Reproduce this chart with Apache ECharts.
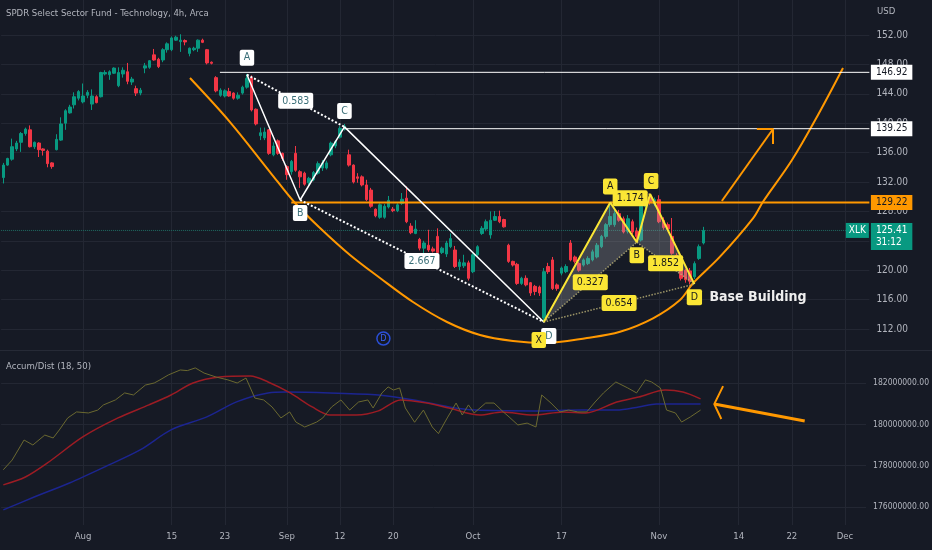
<!DOCTYPE html>
<html><head><meta charset="utf-8">
<script src="https://cdn.jsdelivr.net/npm/echarts@6/dist/echarts.min.js"></script>
<style>html,body{margin:0;padding:0;background:#161a25;}#c{width:932px;height:550px;}</style>
</head><body><div id="c"></div>
<script>
// ---------- DATA ----------
const tradingDays = {
  '2022-07': [19,20,21,22,25,26,27,28,29],
  '2022-08': [1,2,3,4,5,8,9,10,11,12,15,16,17,18,19,22,23,24,25,26,29,30,31],
  '2022-09': [1,2,6,7,8,9,12,13,14,15,16,19,20,21,22,23,26,27,28,29,30],
  '2022-10': [3,4,5,6,7,10,11,12,13,14,17,18,19,20,21,24,25,26,27,28,31],
  '2022-11': [1,2,3,4,7,8,9,10,11,14,15,16,17,18,21,22,23,25,28,29,30],
  '2022-12': [1,2,5]
};
const sessions = ['09:30','13:30'];
const tickLabels = {'2022-08-01':'Aug','2022-08-15':'15','2022-08-23':'23','2022-09-01':'Sep','2022-09-12':'12',
  '2022-09-20':'20','2022-10-03':'Oct','2022-10-17':'17','2022-11-01':'Nov','2022-11-14':'14','2022-11-22':'22','2022-12-01':'Dec'};

const opens = [132.6,134.3,135.1,136.5,137.4,138.6,139.1,136.8,137.3,136.5,
 136.2,134.6,136.4,137.7,140.0,141.4,142.5,143.4,142.9,143.8,
 142.6,143.6,143.6,146.7,146.6,146.8,145.1,146.7,147.0,145.6,
 144.7,144.1,147.5,147.6,149.3,148.7,148.6,150.0,150.0,151.3,
 151.1,151.25,149.5,150.0,150.2,151.3,150.0,148.3,146.2,143.8,
 143.7,144.3,144.1,143.4,144.1,144.9,146.2,141.9,138.3,138.0,
 139.1,135.7,137.6,135.9,134.1,133.4,135.9,133.4,133.2,131.9,
 132.3,133.2,133.9,133.9,135.7,136.9,138.1,139.2,135.7,134.3,
 132.7,132.7,131.6,130.9,128.3,127.2,127.2,128.6,128.3,128.1,
 129.1,129.8,126.0,125.0,124.2,123.0,123.4,122.9,124.6,122.4,
 122.2,123.2,122.75,120.5,120.6,121.0,119.8,122.1,125.0,125.6,
 124.8,126.8,127.3,126.9,123.4,121.2,120.8,118.2,118.9,118.3,
 117.8,117.7,113.5,120.5,121.4,118.0,119.6,119.8,123.7,121.8,
 120.9,120.7,120.9,121.4,121.8,123.2,124.6,126.2,126.2,127.7,
 127.0,125.3,126.6,125.3,124.1,128.7,129.9,129.0,129.6,126.8,
 126.2,124.6,122.0,120.0,120.0,119.9,119.1,121.6,123.7];
const closes = [134.3,135.2,136.8,137.3,138.6,139.2,136.8,137.4,136.4,136.3,
 134.5,134.1,137.8,139.9,141.7,142.2,143.6,144.3,143.7,144.2,
 143.7,142.8,146.9,146.9,147.0,147.5,146.9,147.2,145.7,146.0,
 144.1,144.5,147.8,148.5,148.6,147.7,150.0,150.8,151.6,151.7,
 151.3,151.05,150.2,150.2,151.3,151.0,148.2,148.15,144.4,144.5,
 144.4,143.7,143.4,143.8,144.9,146.1,141.8,139.9,138.7,138.8,
 135.9,136.9,135.9,135.2,133.0,134.8,133.6,132.7,131.7,132.5,
 133.3,134.5,134.6,134.6,137.3,137.5,139.3,139.6,134.3,132.0,
 132.5,131.6,129.6,128.7,127.4,128.9,128.7,129.5,128.1,128.9,
 129.65,126.6,125.1,125.6,123.0,123.7,122.75,122.6,122.4,123.0,
 123.7,124.3,120.5,121.1,121.0,118.9,122.1,123.2,125.7,126.6,
 126.8,127.3,126.6,125.9,121.2,120.7,118.2,118.9,118.0,116.9,
 117.1,116.9,119.8,119.8,117.5,117.5,120.3,120.5,121.4,121.2,
 120.0,121.4,121.6,122.5,123.4,124.6,126.2,127.3,127.7,126.8,
 125.2,127.0,125.2,124.6,128.7,129.7,129.2,129.6,126.6,125.8,
 125.6,122.3,121.4,118.9,118.7,118.5,120.9,123.2,125.41];
const lows = [131.8,134.2,134.9,136.2,136.1,138.3,136.7,136.5,135.4,135.6,
 134.0,133.8,136.3,137.6,139.1,141.3,142.0,143.1,142.7,143.4,
 141.8,142.7,143.5,146.5,145.9,146.7,144.9,146.2,145.3,145.2,
 143.7,143.8,146.8,147.4,148.5,147.5,148.3,149.6,149.8,151.2,
 149.7,150.6,149.1,149.8,149.7,150.9,148.0,148.0,144.2,143.6,
 143.5,143.6,143.2,143.2,143.9,144.7,141.6,139.7,137.7,137.7,
 135.7,135.5,135.7,134.9,132.3,133.0,133.4,131.2,131.5,131.6,
 132.1,133.0,133.5,133.7,135.5,136.6,137.9,139.0,134.1,131.8,
 131.9,131.4,129.4,128.5,127.2,127.0,127.0,128.4,127.9,127.9,
 128.9,126.4,124.9,124.9,122.7,122.3,122.5,122.4,122.2,122.2,
 121.8,123.0,120.3,120.0,120.3,118.6,119.6,121.9,124.8,125.3,
 124.3,126.7,126.4,125.8,121.0,120.5,118.0,118.0,117.8,116.5,
 116.6,116.5,112.95,119.5,117.3,117.2,119.3,119.6,121.2,120.9,
 119.8,120.5,120.7,121.2,121.6,123.0,124.3,125.9,125.9,126.6,
 125.0,125.0,124.9,123.8,123.9,128.4,128.9,128.7,126.4,125.5,
 125.3,122.1,121.0,118.6,118.3,118.1,118.8,121.4,123.5];
const highs = [134.6,135.3,137.9,137.6,138.8,139.4,139.7,137.5,137.4,136.6,
 136.4,134.7,138.5,140.8,141.9,142.5,144.2,144.5,145.4,144.5,
 144.6,143.8,147.0,147.2,147.2,147.6,147.6,147.6,148.2,146.3,
 145.1,144.8,148.2,148.6,150.1,148.9,150.2,151.0,151.8,151.9,
 152.1,151.4,150.3,150.4,151.4,151.5,150.1,148.4,146.4,144.75,
 144.6,144.8,144.2,144.2,145.1,146.7,146.5,142.0,139.4,139.4,
 139.2,137.4,137.8,136.0,134.3,135.0,136.9,133.6,133.4,132.7,
 133.5,134.8,135.0,134.9,137.5,137.7,139.6,139.9,136.4,134.4,
 133.2,132.9,132.3,131.2,128.4,129.1,129.0,130.1,128.6,129.1,
 130.5,131.4,126.4,126.8,124.4,124.0,125.5,123.2,125.7,123.2,
 124.0,125.0,123.3,121.5,122.1,121.3,122.3,123.4,126.0,126.9,
 128.0,128.05,128.1,127.0,123.6,121.3,121.0,119.1,119.3,118.4,
 118.0,117.9,120.3,121.0,121.8,118.2,120.5,120.8,124.1,122.0,
 121.1,121.6,121.9,122.8,123.7,124.8,126.4,129.2,128.3,128.2,
 127.3,127.5,126.9,125.8,129.0,130.0,130.4,129.9,130.2,127.2,
 126.5,127.1,122.3,120.3,120.2,120.3,121.2,123.5,125.9];

// Accum/Dist (millions), [bar index, value]
const adLine = [[0,177.8],[2,178.27],[4.7,179.24],[6.7,179.0],[9.4,179.48],[11.3,179.34],[12.7,179.73],[14.6,180.31],[16.6,180.6],[19.3,180.55],[21.4,180.69],[22.7,180.94],[25.4,181.18],[27.5,181.52],[29.5,181.42],[32.2,181.9],[34.2,182.0],[35.5,182.15],[37.4,182.39],[40.1,182.63],[41.7,182.6],[43.5,182.73],[45.5,182.48],[48.2,182.29],[50.9,182.15],[53,182.0],[55,182.24],[57,181.27],[59,181.18],[60.9,180.84],[62.9,180.31],[64.9,180.6],[66.3,180.11],[68.3,179.87],[71,180.11],[72.4,180.31],[74.4,180.84],[76.5,181.18],[78.5,180.69],[80.5,181.08],[82.6,181.18],[83.8,180.79],[85.8,181.52],[87.2,181.81],[88.4,181.66],[89.8,181.76],[91.1,180.79],[93.2,180.1],[95.2,180.69],[97.2,179.87],[98.6,179.55],[100.6,180.31],[102.6,181.03],[104,180.45],[105.4,180.94],[106.7,180.55],[109.3,181.03],[111.2,181.03],[113.3,180.6],[114.6,180.36],[116.6,179.97],[118.7,180.06],[120.7,179.87],[122,181.42],[124.1,181.03],[126.1,180.6],[128.1,180.69],[130.2,180.6],[132.2,180.6],[134.1,181.08],[136,181.52],[138.8,182.05],[141.5,181.76],[143.5,181.52],[145.5,182.15],[146.9,182.05],[148.9,181.76],[150.3,180.69],[152.3,180.55],[153.7,180.11],[155.7,180.36],[158,180.69]];
const adFast = [[0,177.07],[5,177.45],[10,178.13],[18,179.39],[26,180.31],[33,180.94],[38,181.42],[43,182.0],[49,182.29],[56,182.34],[60,182.05],[65,181.52],[70,180.84],[74,180.45],[80,180.45],[85,180.65],[90,181.18],[96,181.03],[101,180.79],[108,180.45],[113,180.6],[120,180.45],[127,180.6],[132,180.55],[139,181.08],[144,181.32],[150,181.66],[154,181.56],[158,181.23]];
const adSlow = [[0,175.86],[7,176.48],[15,177.16],[23,177.94],[31,178.76],[38,179.73],[46,180.35],[53,181.1],[60,181.52],[64,181.56],[74,181.52],[85,181.42],[93,181.18],[101,180.84],[107,180.69],[120,180.65],[131,180.69],[139,180.69],[144,180.84],[148,180.98],[158,180.98]];

// Drawings, [bar index, price]
const whitePattern = {A:[55,146.6], B:[67,129.55], C:[77,139.5], D:[122,112.95]};
const whiteRatios = [['0.583','A','C'],['2.667','B','D']];
const yellowPattern = {X:[122,112.95], A:[137,129.22], B:[143,123.8], C:[146,130.37], D:[156,118.1]};
const yellowRatios = [['0.327','X','B'],['1.174','A','C'],['1.852','B','D'],['0.654','X','D']];
const levelPrices = [146.92, 139.25, 129.22];
const levelStarts = [48.9, 77, 65];
const lastPrice = 125.41, countdown = '31:12', ticker = 'XLK';
const arcPoints = [[42.14,146.15],[51.17,140.16],[60.2,133.36],[65.85,129.14],[71.49,125.74],[78.26,122.07],[85.03,118.94],[92.48,115.67],[100.16,112.95],[107.61,111.18],[115.06,110.37],[122.28,110.10],[131.76,110.78],[139.21,111.63],[146.66,113.46],[152.75,115.95],[155.69,118.22],[161.78,121.84],[169.23,127.06],[171.49,129.32],[178.03,134.99],[183.9,141.12],[189.54,147.51]];
const arrowMain = [[162.2,129.41],[173.75,139.21]];
const arrowMainHead = [[170.1,139.21],[173.75,139.21],[173.75,137.17]];
const arrowAD = [[181.6,180.16],[161.1,180.98]];
const arrowADHead = [[163.1,181.85],[161.1,180.98],[162.7,180.26]];
const dividends = [[85.8,110.7]];
const noteText = 'Base Building', noteAt = [159.3,116.35];
const titleText = 'SPDR Select Sector Fund - Technology, 4h, Arca';
const adTitle = 'Accum/Dist (18, 50)';

// ---------- BUILD ----------
const categories = [];
Object.keys(tradingDays).forEach(m => tradingDays[m].forEach(d => {
  const ds = m + '-' + String(d).padStart(2,'0');
  sessions.forEach(s => categories.push(ds + ' ' + s));
}));
const N = categories.length;
const BAR = 4.43, GL = 1.1, GW = N * BAR;
const FONT = '"Liberation Sans Narrow","DejaVu Sans Condensed","Liberation Sans",sans-serif';
const TXT = '#b2b5be', GRIDC = '#232733', BG = '#161a25';
const UP = '#089981', DOWN = '#f23645', ORANGE = '#ff9800', YEL = '#fbe635';
const isTick = v => v.endsWith(sessions[0]) && tickLabels[v.slice(0,10)] !== undefined;
const candles = opens.map((o,i) => [o, closes[i], lows[i], highs[i]]);
const mid = (p,q) => [(p[0]+q[0])/2, (p[1]+q[1])/2];

function tag(pos, text, o) {
  return {value: pos, label: Object.assign({show:true, position:'inside', formatter:text, fontFamily:FONT,
    fontSize:10.5, padding:[3,4,2,4], borderRadius:2}, o)};
}
const tags = [];
const wOff = {A:[0,-17], B:[0,13], C:[0,-16], D:[5,14]};
Object.keys(whitePattern).forEach(k => tags.push(tag(whitePattern[k], k, {backgroundColor:'#ffffff', color:'#3a6f78', offset:wOff[k]})));
whiteRatios.forEach(r => tags.push(tag(mid(whitePattern[r[1]], whitePattern[r[2]]), r[0], {backgroundColor:'#ffffff', color:'#3a6f78'})));
const yOff = {X:[-5,18], A:[0,-16], B:[0,13], C:[1,-13], D:[0,13]};
Object.keys(yellowPattern).forEach(k => tags.push(tag(yellowPattern[k], k, {backgroundColor:YEL, color:'#1a1a1a', offset:yOff[k]})));
yellowRatios.forEach(r => tags.push(tag(mid(yellowPattern[r[1]], yellowPattern[r[2]]), r[0], {backgroundColor:YEL, color:'#1a1a1a'})));
const levelBg = ['#ffffff','#ffffff',ORANGE];
levelPrices.forEach((p,i) => tags.push(tag([N-0.5,p], p.toFixed(2), {position:'right', distance:1, backgroundColor:levelBg[i], color:'#131722', fontSize:10, padding:[3,5,2,5], borderRadius:0})));
tags.push(tag([N-0.5,lastPrice], lastPrice.toFixed(2)+'\n'+countdown, {position:'right', distance:1, backgroundColor:UP, color:'#ffffff', fontSize:10, lineHeight:12, padding:[2,5,1,5], borderRadius:0, offset:[0,6]}));
tags.push(tag([N-0.5,lastPrice], ticker, {position:'left', distance:0, backgroundColor:UP, color:'#ffffff', fontSize:10, padding:[3,3,2,3], borderRadius:0}));
tags.push(tag(noteAt, noteText, {position:'right', distance:0, color:'#eeeeee', fontSize:14, fontWeight:'bold', padding:0}));

const lineS = (data, color, width, type, extra) => Object.assign({type:'line', xAxisIndex:3, yAxisIndex:0, data, symbol:'none',
  lineStyle:{color, width, type: type || 'solid'}, silent:true, z:3}, extra || {});

const series = [
  {type:'candlestick', xAxisIndex:0, yAxisIndex:0, data:candles, barWidth:3, z:2,
   itemStyle:{color:UP, color0:DOWN, borderColor:UP, borderColor0:DOWN, borderWidth:1}},
  lineS([[-0.5,lastPrice],[N-0.5,lastPrice]], '#1f6b63', 1, 'dotted', {z:1}),
  lineS(arcPoints, ORANGE, 2, 'solid', {smooth:0.35}),
  lineS([[levelStarts[0],levelPrices[0]],[N-0.5,levelPrices[0]]], '#ffffff', 1),
  lineS([[levelStarts[1],levelPrices[1]],[N-0.5,levelPrices[1]]], '#ffffff', 1),
  lineS([[levelStarts[2],levelPrices[2]],[N-0.5,levelPrices[2]]], ORANGE, 2),
  {type:'custom', xAxisIndex:3, yAxisIndex:0, silent:true, z:3,
   data:[[...yellowPattern.X, ...yellowPattern.A, ...yellowPattern.B],[...yellowPattern.B, ...yellowPattern.C, ...yellowPattern.D]],
   encode:{x:[0,2,4], y:[1,3,5]},
   renderItem:(params, api) => ({type:'polygon', shape:{points:[0,1,2].map(k => api.coord([api.value(2*k), api.value(2*k+1)]))},
     style:{fill:'rgba(175,175,180,0.28)'}})},
  lineS([whitePattern.A, whitePattern.C], '#ffffff', 2, 'dotted'),
  lineS([whitePattern.B, whitePattern.D], '#ffffff', 2, 'dotted'),
  lineS([whitePattern.A, whitePattern.B, whitePattern.C, whitePattern.D], '#ffffff', 1.5),
  ...yellowRatios.map(r => lineS([yellowPattern[r[1]], yellowPattern[r[2]]], 'rgba(190,180,120,0.8)', 1.5, 'dotted')),
  lineS(['X','A','B','C','D'].map(k => yellowPattern[k]), YEL, 2),
  lineS(arrowMain, ORANGE, 2),
  lineS(arrowMainHead, ORANGE, 2),
  {type:'scatter', xAxisIndex:3, yAxisIndex:0, data:dividends, symbol:'circle', symbolSize:13, silent:true, z:4,
   itemStyle:{color:BG, borderColor:'#2a4fd8', borderWidth:1.5, opacity:1},
   label:{show:true, position:'inside', formatter:'D', color:'#3a60f0', fontSize:9, fontFamily:FONT}},
  {type:'scatter', xAxisIndex:3, yAxisIndex:0, data:tags, symbolSize:1, itemStyle:{color:'transparent', opacity:1}, silent:true, clip:false, z:6},
  // indicator
  {type:'line', xAxisIndex:1, yAxisIndex:1, data:adSlow, symbol:'none', smooth:0.3, lineStyle:{color:'#1c2590', width:1.5}, silent:true},
  {type:'line', xAxisIndex:1, yAxisIndex:1, data:adFast, symbol:'none', smooth:0.3, lineStyle:{color:'#9c1c24', width:1.5}, silent:true},
  {type:'line', xAxisIndex:1, yAxisIndex:1, data:adLine, symbol:'none', lineStyle:{color:'#6b6930', width:1}, silent:true},
  {type:'line', xAxisIndex:1, yAxisIndex:1, data:arrowAD, symbol:'none', lineStyle:{color:ORANGE, width:3}, silent:true, z:4},
  {type:'line', xAxisIndex:1, yAxisIndex:1, data:arrowADHead, symbol:'none', lineStyle:{color:ORANGE, width:2}, silent:true, z:4}
];

const chart = echarts.init(document.getElementById('c'), null, {renderer:'canvas'});
chart.setOption({
  backgroundColor: BG,
  animation: false,
  title: [
    {text:titleText, left:6, top:9, padding:0, textStyle:{color:TXT, fontSize:9.5, fontWeight:'normal', fontFamily:FONT}},
    {text:adTitle, left:6, top:362, padding:0, textStyle:{color:TXT, fontSize:9.5, fontWeight:'normal', fontFamily:FONT}},
    {text:'USD', left:877, top:7, padding:0, textStyle:{color:TXT, fontSize:9.5, fontWeight:'normal', fontFamily:FONT}}
  ],
  grid: [
    {left:GL, top:5.6, width:GW, height:352.8},
    {left:GL, top:352, width:GW, height:196.3},
    {left:GL + BAR/2, top:0, width:(N-1)*BAR, height:525}
  ],
  xAxis: [
    {gridIndex:0, type:'category', data:categories, show:false},
    {gridIndex:1, type:'value', min:-0.5, max:N-0.5, show:false},
    {gridIndex:2, type:'category', data:categories, boundaryGap:false, axisLine:{show:false}, axisTick:{show:false},
     axisLabel:{interval:(i,v) => isTick(v), formatter:v => tickLabels[v.slice(0,10)] || '', color:TXT, fontSize:9.5, fontFamily:FONT, margin:7},
     splitLine:{show:true, interval:(i,v) => isTick(v), lineStyle:{color:GRIDC, width:1}}},
    {gridIndex:0, type:'value', min:-0.5, max:N-0.5, show:false}
  ],
  yAxis: [
    {gridIndex:0, type:'value', position:'right', min:108, max:156, interval:4, axisLine:{show:false}, axisTick:{show:false},
     axisLabel:{color:TXT, fontSize:10, fontFamily:FONT, margin:7, formatter:v => (v <= 108 || v >= 156) ? '' : v.toFixed(2)},
     splitLine:{show:true, lineStyle:{color:['transparent',GRIDC,GRIDC,GRIDC,GRIDC,GRIDC,GRIDC,GRIDC,GRIDC,GRIDC,GRIDC,GRIDC,'transparent'], width:1}}},
    {gridIndex:1, type:'value', position:'right', min:174, max:183.5, interval:2, axisLine:{show:false}, axisTick:{show:false},
     axisLabel:{color:TXT, fontSize:8.5, fontFamily:FONT, margin:7, formatter:v => (v >= 176 && v <= 182) ? (v*1000000).toFixed(2) : ''},
     splitLine:{show:true, lineStyle:{color:['transparent',GRIDC,GRIDC,GRIDC,GRIDC,'transparent'], width:1}}},
    {gridIndex:2, type:'value', min:0, max:1, show:false}
  ],
  graphic: [{type:'rect', shape:{x:0, y:350, width:932, height:1}, style:{fill:'#262a36'}, silent:true}],
  series
});
</script></body></html>
